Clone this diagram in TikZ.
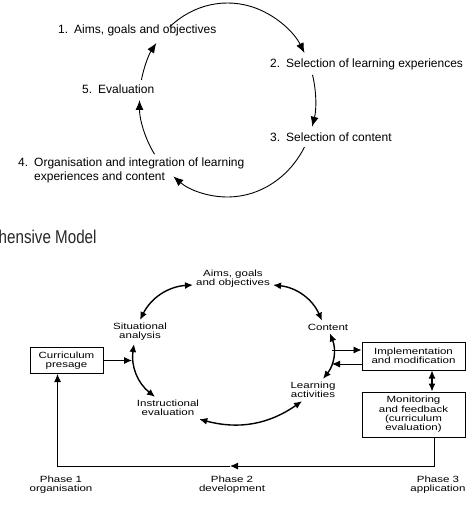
\documentclass[tikz,border=0pt]{standalone}
\usepackage{fontspec}
\setmainfont{Liberation Sans}
\newfontfamily\widefont[FakeStretch=1.28]{Liberation Sans}
\newfontfamily\narrowfont[FakeStretch=0.82]{Liberation Sans}
\usetikzlibrary{positioning,calc,arrows.meta}

\begin{document}
\begin{tikzpicture}[x=1pt, y=-1pt,
    stage/.style={font=\fontsize{12}{14}\selectfont, inner sep=0pt, anchor=west},
    cycarrow/.style={line width=0.9pt, -{Latex[length=10pt,width=8pt]}},
    heading/.style={font=\narrowfont\fontsize{18.5}{20}\selectfont, inner sep=0pt, anchor=west, text=black!85},
    elem/.style={font=\widefont\fontsize{9}{9.3}\selectfont, align=center, inner sep=3pt},
    box/.style={elem, draw, line width=1pt},
    link/.style={line width=1.4pt, {Latex[length=8pt,width=7pt]}-{Latex[length=8pt,width=7pt]}},
    flow/.style={line width=0.9pt, -{Latex[length=8pt,width=7pt]}},
    phase/.style={elem, inner sep=1pt}
]
\useasboundingbox (0,0) rectangle (470,510);

% Cycle: five stages
\coordinate (cyc) at (227.5,100);
\node[stage] (s1) at (58,30) {1.\enspace Aims, goals and objectives};
\node[stage] (s2) at (270,64) {2.\enspace Selection of learning experiences};
\node[stage] (s3) at (270,137) {3.\enspace Selection of content};
\node[stage, align=left] (s4) at (18,170) {4.\enspace Organisation and integration of learning\\\phantom{4.\enspace}experiences and content};
\node[stage] (s5) at (82,89) {5.\enspace Evaluation};

\draw[cycarrow] ($(cyc)+(229:88 and 97)$) arc[start angle=229, end angle=331, x radius=88, y radius=97];
\draw[cycarrow] ($(cyc)+(-15:88 and 97)$) arc[start angle=-15, end angle=16, x radius=88, y radius=97];
\draw[cycarrow] ($(cyc)+(29:88 and 97)$) arc[start angle=29, end angle=128, x radius=88, y radius=97];
\draw[cycarrow] ($(cyc)+(146:88 and 97)$) arc[start angle=146, end angle=180, x radius=88, y radius=97];
\draw[cycarrow] ($(cyc)+(192:88 and 97)$) arc[start angle=192, end angle=216, x radius=88, y radius=97];

% Title
\node[heading] (model) at (-1.5,237) {hensive Model};

% Comprehensive model: elements
\node[elem] (aims) at (233,279) {Aims, goals\\and objectives};
\node[elem] (situ) at (140,332) {Situational\\analysis};
\node[elem] (content) at (328,327) {Content};
\node[elem] (instr) at (168,408) {Instructional\\evaluation};
\node[elem] (learn) at (313,390) {Learning\\activities};

\draw[link] (situ.north) to[bend left=30] ([yshift=-6pt]aims.west);
\draw[link] ([yshift=-6pt]aims.east) to[bend left=30] ([xshift=-6pt]content.north);
\draw[link] ([xshift=2pt]content.south) to[bend left=30] ([xshift=10pt]learn.north);
\draw[link] ([xshift=-11pt]learn.south) to[bend left=25] ([xshift=-3pt]instr.south east);
\draw[link] ([xshift=-13pt]instr.north) to[bend left=30] ([xshift=-6pt]situ.south);

% Boxes
\node[box, minimum width=73pt, minimum height=26pt] (presage) at (66.5,360.5) {Curriculum\\presage};
\node[box, minimum width=103pt, minimum height=28pt] (impl) at (413.5,356) {Implementation\\and modification};
\node[box, minimum width=103pt, minimum height=45pt] (monitor) at (413.5,414.5) {Monitoring\\and feedback\\(curriculum\\evaluation)};

\coordinate (situin) at (132,360.5);
\coordinate (contout) at (332,350);
\coordinate (contin) at (332,364);
\coordinate (loopmid) at (230,466);

\draw[flow] (presage.east) -- (situin);
\draw[flow] (contout) -- (contout -| impl.west);
\draw[flow] (impl.west |- contin) -- (contin);
\draw[link, line width=1.1pt] ([xshift=18.5pt]impl.south) -- ([xshift=18.5pt]monitor.north);
\draw[flow] ([xshift=20.5pt]monitor.south) |- (loopmid);
\draw[flow] (loopmid) -| ([xshift=-9pt]presage.south);

% Phases
\node[phase] (ph1) at (61,485) {Phase 1\\organisation};
\node[phase] (ph2) at (232,485) {Phase 2\\development};
\node[phase] (ph3) at (438,485) {Phase 3\\application};

\end{tikzpicture}
\end{document}
